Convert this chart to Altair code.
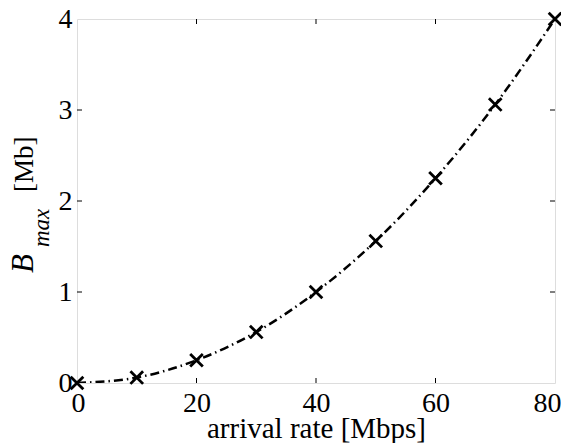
import altair as alt
import pandas as pd

# Data
arrival_rate = [0, 10, 20, 30, 40, 50, 60, 70, 80]
b_max = [0.0, 0.06, 0.25, 0.56, 1.0, 1.56, 2.25, 3.06, 4.0]
x_tick_values = [0, 20, 40, 60, 80]
y_tick_values = [0, 1, 2, 3, 4]
x_inner_ticks = [20, 40, 60]
y_inner_ticks = [1, 2, 3]

W, H = 478, 364
FONT = "Liberation Serif"
X_PATH = "M-1,-1L1,1M1,-1L-1,1"

df = pd.DataFrame({"rate": arrival_rate, "bmax": b_max})
xt = pd.DataFrame({"v": x_inner_ticks})
yt = pd.DataFrame({"v": y_inner_ticks})

xscale = alt.Scale(domain=[0, 80], nice=False, zero=False)
yscale = alt.Scale(domain=[0, 4], nice=False, zero=False)

xaxis = alt.Axis(values=x_tick_values, format="d", ticks=False, domain=False, grid=False,
                 labelFont=FONT, labelFontSize=28, labelColor="black",
                 labelFlush=True, labelFlushOffset=6, labelPadding=6,
                 title="arrival rate [Mbps]", titleFont=FONT, titleFontSize=29,
                 titleFontWeight="normal", titleColor="black", titlePadding=-3)
yaxis = alt.Axis(values=y_tick_values, format="d", ticks=False, domain=False, grid=False,
                 labelFont=FONT, labelFontSize=28, labelColor="black",
                 labelFlush=False, labelPadding=5, title=None)

base = alt.Chart(df)

line = base.mark_line(interpolate="monotone", color="black", strokeWidth=2.5,
                      strokeDash=[9, 4, 1.5, 4], clip=True).encode(
    x=alt.X("rate:Q", scale=xscale, axis=xaxis),
    y=alt.Y("bmax:Q", scale=yscale, axis=yaxis),
)

pts = base.mark_point(shape=X_PATH, size=160, filled=False, color="black",
                      strokeWidth=2.8, opacity=1).encode(
    x=alt.X("rate:Q", scale=xscale),
    y=alt.Y("bmax:Q", scale=yscale),
)

tick_style = dict(color="black", strokeWidth=1)
xt_bottom = alt.Chart(xt).mark_rule(**tick_style).encode(
    x=alt.X("v:Q", scale=xscale), y=alt.value(H), y2=alt.value(H - 5))
xt_top = alt.Chart(xt).mark_rule(**tick_style).encode(
    x=alt.X("v:Q", scale=xscale), y=alt.value(0), y2=alt.value(5))
yt_left = alt.Chart(yt).mark_rule(**tick_style).encode(
    y=alt.Y("v:Q", scale=yscale), x=alt.value(0), x2=alt.value(5))
yt_right = alt.Chart(yt).mark_rule(**tick_style).encode(
    y=alt.Y("v:Q", scale=yscale), x=alt.value(W), x2=alt.value(W - 5))

one = pd.DataFrame({"a": [0]})
t_b = alt.Chart(one).mark_text(text="B", font=FONT, fontSize=31, fontStyle="italic",
                               angle=270, align="left", baseline="alphabetic",
                               color="black").encode(x=alt.value(-44), y=alt.value(254))
t_max = alt.Chart(one).mark_text(text="max", font=FONT, fontSize=23, fontStyle="italic",
                                 angle=270, align="left", baseline="alphabetic",
                                 color="black").encode(x=alt.value(-28), y=alt.value(228))
t_mb = alt.Chart(one).mark_text(text="[Mb]", font=FONT, fontSize=27,
                                angle=270, align="left", baseline="alphabetic",
                                color="black").encode(x=alt.value(-44), y=alt.value(173))

chart = alt.layer(line, pts, xt_bottom, xt_top, yt_left, yt_right, t_b, t_max, t_mb).properties(
    width=W, height=H,
    autosize=alt.AutoSizeParams(type="none"),
    padding={"left": 69, "top": 11, "right": 6, "bottom": 60},
).configure_view(stroke="black", strokeWidth=1.2).configure(background="white")

chart.save("out.html", embed_options={"renderer": "svg", "actions": False})
